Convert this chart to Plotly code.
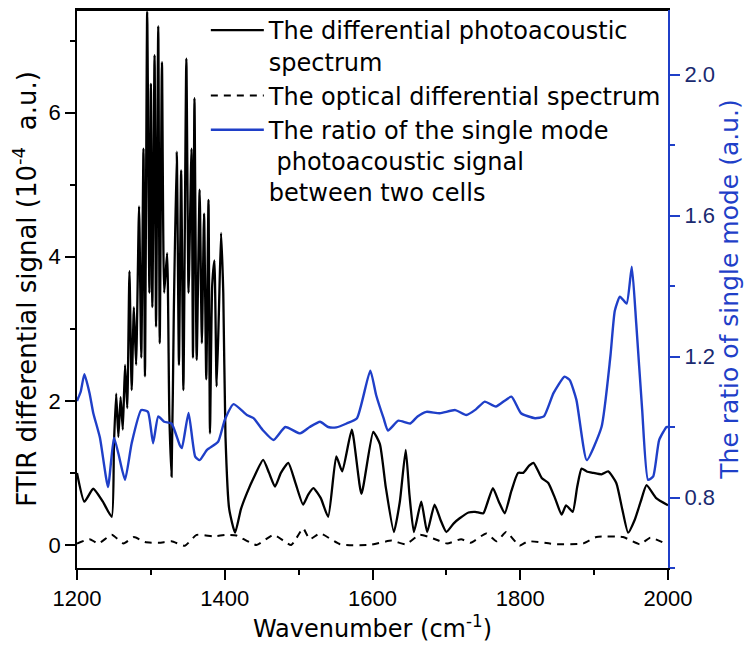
import plotly.graph_objects as go

# Differential photoacoustic spectrum (10^-4 a.u.)
pa_wavenumber = [1200, 1210, 1222, 1235, 1247, 1250, 1253, 1256, 1259, 1262, 1265, 1268, 1271, 1274,
                 1277, 1280, 1284, 1287, 1290, 1292, 1295, 1298, 1300, 1302, 1305, 1307, 1310, 1312,
                 1315, 1318, 1322, 1325, 1328, 1331, 1335, 1338, 1341, 1344, 1348, 1351, 1355, 1357,
                 1359, 1362, 1366, 1369, 1372, 1375, 1378, 1380, 1383, 1386, 1389, 1392, 1395, 1398,
                 1401, 1406, 1414, 1422, 1430, 1440, 1452, 1460, 1468, 1476, 1486, 1496, 1506, 1513,
                 1520, 1530, 1540, 1551, 1559, 1572, 1585, 1601, 1610, 1618, 1629, 1637, 1645, 1650,
                 1656, 1666, 1674, 1684, 1692, 1700, 1710, 1718, 1730, 1739, 1750, 1756, 1763, 1771,
                 1779, 1788, 1797, 1804, 1812, 1818, 1829, 1838, 1847, 1856, 1862, 1871, 1877, 1883,
                 1890, 1899, 1910, 1919, 1930, 1938, 1946, 1955, 1963, 1971, 1984, 2000]
pa_signal = [1.0, 0.6, 0.78, 0.6, 0.39, 1.4, 2.1, 1.5, 2.05, 1.6, 2.5, 1.9, 3.8, 2.15,
             3.3, 2.5, 4.7, 2.6, 5.5, 2.34, 7.4, 3.5, 6.4, 3.3, 6.8, 3.03, 7.2, 2.8,
             6.7, 3.5, 4.05, 1.8, 0.95, 3.2, 5.46, 2.5, 5.2, 2.15, 6.75, 3.5, 5.5, 2.6,
             6.2, 2.57, 4.93, 2.8, 4.6, 2.3, 4.79, 1.55, 3.6, 3.95, 2.2, 3.2, 4.33, 3.5,
             1.5, 0.5, 0.17, 0.5, 0.72, 0.95, 1.18, 1.0, 0.81, 1.0, 1.14, 0.85, 0.56, 0.7,
             0.79, 0.65, 0.39, 1.23, 1.02, 1.6, 0.71, 1.57, 1.4, 0.8, 0.18, 0.6, 1.32, 0.7,
             0.18, 0.6, 0.18, 0.56, 0.35, 0.18, 0.3, 0.37, 0.45, 0.46, 0.44, 0.6, 0.79, 0.6,
             0.44, 0.75, 1.0, 1.0, 1.1, 1.14, 0.93, 0.86, 0.65, 0.42, 0.55, 0.46, 0.8, 1.06,
             1.02, 1.0, 0.98, 1.02, 0.86, 0.5, 0.17, 0.35, 0.6, 0.83, 0.65, 0.55]

# Optical differential spectrum (10^-4 a.u.)
opt_wavenumber = [1200, 1217, 1229, 1247, 1263, 1277, 1292, 1311, 1328, 1346, 1362, 1385, 1403, 1416,
                  1443, 1466, 1490, 1506, 1515, 1529, 1556, 1596, 1626, 1645, 1664, 1682, 1701, 1720,
                  1733, 1754, 1768, 1781, 1799, 1810, 1840, 1849, 1885, 1903, 1939, 1962, 1976, 1994]
opt_signal = [0.02, 0.08, 0.02, 0.14, 0.02, 0.11, 0.04, 0.03, 0.05, -0.01, 0.14, 0.12, 0.14, 0.13,
              0.0, 0.14, 0.0, 0.23, 0.08, 0.16, 0.01, 0.0, 0.06, 0.01, 0.14, 0.09, 0.02, 0.08,
              0.03, 0.16, 0.05, 0.18, -0.01, 0.05, 0.02, 0.01, 0.02, 0.11, 0.11, 0.01, 0.1, 0.03]

# Ratio of the single mode photoacoustic signal between two cells (a.u.)
ratio_wavenumber = [1200, 1205, 1210, 1217, 1222, 1231, 1242, 1250, 1256, 1265, 1274, 1287, 1296, 1303,
                    1310, 1318, 1328, 1339, 1342, 1351, 1360, 1366, 1376, 1391, 1400, 1412, 1430, 1439,
                    1452, 1466, 1482, 1502, 1515, 1529, 1540, 1551, 1565, 1579, 1597, 1605, 1615, 1621,
                    1635, 1651, 1661, 1673, 1691, 1712, 1727, 1740, 1752, 1767, 1788, 1801, 1820, 1832,
                    1845, 1860, 1867, 1876, 1890, 1910, 1922, 1928, 1935, 1944, 1951, 1957, 1965, 1973,
                    1980, 1988, 1998, 2000]
ratio_signal = [1.074, 1.1, 1.15, 1.096, 1.04, 0.97, 0.83, 0.97, 0.925, 0.85, 0.954, 1.048, 1.043, 0.954,
                1.03, 1.015, 1.01, 0.949, 0.94, 1.04, 0.916, 0.906, 0.935, 0.958, 1.02, 1.065, 1.034, 1.025,
                0.99, 0.963, 1.0, 0.982, 1.0, 1.015, 1.0, 0.999, 1.01, 1.025, 1.16, 1.09, 1.025, 0.99,
                1.018, 1.01, 1.03, 1.043, 1.039, 1.048, 1.034, 1.05, 1.072, 1.058, 1.086, 1.039, 1.025, 1.03,
                1.096, 1.143, 1.133, 1.077, 0.906, 1.0, 1.2, 1.33, 1.37, 1.35, 1.455, 1.294, 1.05, 0.85,
                0.86, 0.963, 1.0, 1.0]

x_ticks = [1200, 1400, 1600, 1800, 2000]
y_ticks = [0, 2, 4, 6]
y2_ticks = [0.8, 1.2, 1.6, 2.0]

BLUE = "#1f3fc8"
NAVY = "#1a2a70"
TICK_FONT = "Liberation Sans, Arial, sans-serif"
TEXT_FONT = "DejaVu Sans, Liberation Sans, Arial, sans-serif"

fig = go.Figure()
fig.add_trace(go.Scatter(
    x=pa_wavenumber, y=pa_signal, mode="lines",
    line=dict(color="black", width=2.3, shape="spline", smoothing=0.5),
    name="The differential photoacoustic<br>spectrum"))
fig.add_trace(go.Scatter(
    x=opt_wavenumber, y=opt_signal, mode="lines",
    line=dict(color="black", width=2, dash="7px,6px", shape="spline", smoothing=0.5),
    name="The optical differential spectrum"))
fig.add_trace(go.Scatter(
    x=ratio_wavenumber, y=ratio_signal, mode="lines", yaxis="y2",
    line=dict(color=BLUE, width=2.4, shape="spline", smoothing=0.5),
    name="The ratio of the single mode<br> photoacoustic signal<br>between two cells"))

# top frame line of the plot box
fig.add_shape(type="line", xref="paper", yref="paper", x0=0, x1=1, y0=1, y1=1,
              line=dict(color="black", width=2), layer="above")

fig.update_layout(
    width=747, height=643,
    margin=dict(l=69, r=87, t=2, b=83, autoexpand=False),
    paper_bgcolor="white", plot_bgcolor="white",
    font=dict(family=TICK_FONT, size=22, color="black"),
    showlegend=True,
    legend=dict(
        x=0.218, y=1.0036, xanchor="left", yanchor="top",
        bgcolor="rgba(0,0,0,0)", borderwidth=0,
        font=dict(family=TEXT_FONT, size=24, color="black"),
        valign="top", itemwidth=53, tracegroupgap=0,
    ),
    xaxis=dict(
        range=[1200, 2000], tickvals=x_ticks, ticktext=[str(v) for v in x_ticks],
        showline=True, linecolor="black", linewidth=1.5, mirror=True,
        ticks="outside", ticklen=10, tickwidth=1.5, tickcolor="black",
        minor=dict(dtick=100, tick0=1200, ticks="outside", ticklen=5, tickwidth=1.5, tickcolor="black"),
        showgrid=False, zeroline=False, automargin=False,
        tickfont=dict(size=22),
        title=dict(text="Wavenumber (cm<sup>-1</sup>)", font=dict(family=TEXT_FONT, size=24), standoff=6),
    ),
    yaxis=dict(
        range=[-0.32, 7.425], tickvals=y_ticks, ticktext=[str(v) for v in y_ticks],
        showline=True, linecolor="black", linewidth=1.5,
        ticks="outside", ticklen=10, tickwidth=1.5, tickcolor="black",
        minor=dict(dtick=1, tick0=0, ticks="outside", ticklen=5, tickwidth=1.5, tickcolor="black"),
        showgrid=False, zeroline=False, automargin=False,
        tickfont=dict(size=22),
        title=dict(text="FTIR differential signal (10<sup>-4</sup>  a.u.)",
                   font=dict(family=TEXT_FONT, size=26), standoff=8),
    ),
    yaxis2=dict(
        overlaying="y", side="right",
        range=[0.6, 2.183], tickvals=y2_ticks, ticktext=["%.1f" % v for v in y2_ticks],
        showline=True, linecolor=BLUE, linewidth=2,
        ticks="outside", ticklen=10, tickwidth=1.5, tickcolor=BLUE,
        minor=dict(dtick=0.2, tick0=0.6, ticks="outside", ticklen=5, tickwidth=1.5, tickcolor=BLUE),
        showgrid=False, zeroline=False, automargin=False,
        tickfont=dict(size=22, color=NAVY),
        title=dict(text="The ratio of single mode (a.u.)",
                   font=dict(family=TEXT_FONT, size=25, color=BLUE), standoff=6),
    ),
)

fig.write_html("out.html")
